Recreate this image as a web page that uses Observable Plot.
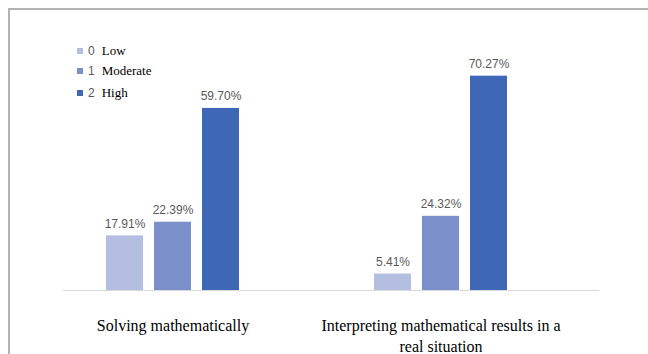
<!DOCTYPE html>
<html>
<head>
<meta charset="utf-8">
<script src="https://cdn.jsdelivr.net/npm/d3@7"></script>
<script src="https://cdn.jsdelivr.net/npm/@observablehq/plot@0.6"></script>
<style>
  body { margin: 0; background: #fff; }
  #wrap { position: relative; width: 648px; height: 354px; overflow: hidden; background: #fff; }
  #border { position: absolute; left: 8px; top: 8px; width: 700px; height: 400px;
            border-top: 2px solid #b3b3b3; border-left: 2px solid #b3b3b3; box-sizing: border-box; }
  #chart { position: absolute; left: 0; top: 0; }
  #legend { position: absolute; left: 0; top: 0; }
  .item { position: absolute; left: 77px; height: 14px; display: flex; align-items: center; white-space: nowrap; }
  .sw { width: 6px; height: 6px; display: inline-block; }
  .num { font-family: "Liberation Sans", sans-serif; font-size: 12px; color: #595959; margin-left: 5px; }
  .name { font-family: "Liberation Serif", serif; font-size: 13px; color: #000; margin-left: 7px; }
</style>
</head>
<body>
<div id="wrap">
  <div id="border"></div>
  <div id="chart"></div>
  <div id="legend"></div>
</div>
<script>
const categories = ["Solving mathematically", "Interpreting mathematical results in a real situation"];
const categoryLabels = ["Solving mathematically", "Interpreting mathematical results in a\nreal situation"];
const levels = ["0", "1", "2"];
const levelNames = ["Low", "Moderate", "High"];
const colors = ["#b3bee0", "#7b8fcb", "#3e67b5"];
const lowValues = [17.91, 5.41];
const moderateValues = [22.39, 24.32];
const highValues = [59.70, 70.27];

const seriesValues = [lowValues, moderateValues, highValues];
const data = [];
categories.forEach((c, ci) => {
  levels.forEach((l, li) => {
    data.push({group: c, level: l, value: seriesValues[li][ci]});
  });
});
const labelData = categories.map((c, i) => ({group: c, label: categoryLabels[i]}));

const chart = Plot.plot({
  width: 648,
  height: 354,
  marginLeft: 62,
  marginRight: 49,
  marginTop: 46,
  marginBottom: 64,
  style: {background: "transparent"},
  fx: {domain: categories, padding: 0, axis: null},
  x: {domain: levels, paddingInner: 0.22, paddingOuter: 1.367, align: 0.316, axis: null},
  y: {domain: [0, 80], axis: null},
  color: {domain: levels, range: colors},
  marks: [
    Plot.ruleY([0], {stroke: "#d9d9d9", strokeWidth: 1.2}),
    Plot.barY(data, {fx: "group", x: "level", y: "value", fill: "level"}),
    Plot.text(data, {fx: "group", x: "level", y: "value", text: d => d.value.toFixed(2) + "%",
      dy: -12, fill: "#595959", fontSize: 12, fontFamily: "Liberation Sans, sans-serif"}),
    Plot.text(labelData, {fx: "group", x: () => "1", text: "label", frameAnchor: "bottom",
      lineAnchor: "top", dy: 26, fontSize: 16, lineHeight: 1.3, fill: "#000",
      fontFamily: "Liberation Serif, serif"})
  ]
});
document.getElementById("chart").appendChild(chart);

const legendTops = [44, 64, 86];
const legend = document.getElementById("legend");
levels.forEach((l, i) => {
  const item = document.createElement("div");
  item.className = "item";
  item.style.top = legendTops[i] + "px";
  item.innerHTML = `<span class="sw" style="background:${colors[i]}"></span><span class="num">${l}</span><span class="name">${levelNames[i]}</span>`;
  legend.appendChild(item);
});
</script>
</body>
</html>
